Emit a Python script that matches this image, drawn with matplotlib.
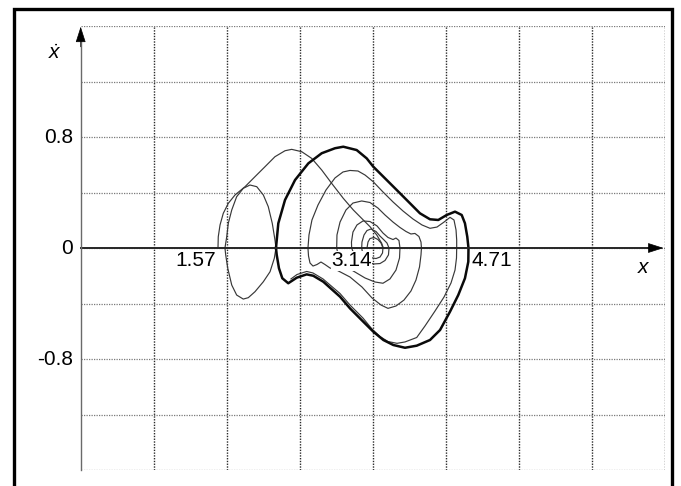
import numpy as np
import matplotlib.pyplot as plt
from matplotlib.patches import Rectangle

# closed orbit (drawn heavy): angle x and angular velocity xdot
cycle_x = [2.101, 2.126, 2.198, 2.306, 2.449, 2.593, 2.736, 2.825, 2.969, 3.077,
           3.148, 3.256, 3.400, 3.543, 3.650, 3.758, 3.847, 3.938, 4.027, 4.099,
           4.134, 4.159, 4.172, 4.170, 4.134, 4.062, 3.973, 3.866, 3.758, 3.615,
           3.489, 3.363, 3.256, 3.148, 3.040, 2.897, 2.790, 2.610, 2.502, 2.431,
           2.324, 2.233, 2.169, 2.133, 2.109, 2.101]
cycle_v = [0.0, 0.178, 0.346, 0.490, 0.610, 0.683, 0.719, 0.730, 0.706, 0.646,
           0.586, 0.514, 0.418, 0.322, 0.250, 0.207, 0.202, 0.238, 0.262, 0.238,
           0.178, 0.081, 0.0, -0.099, -0.218, -0.339, -0.459, -0.591, -0.663, -0.704,
           -0.719, -0.699, -0.663, -0.603, -0.531, -0.435, -0.351, -0.243, -0.200, -0.190,
           -0.214, -0.254, -0.218, -0.146, -0.050, 0.0]

# small loop on the left
lobe_x = [1.552, 1.571, 1.588, 1.625, 1.678, 1.749, 1.821, 1.894, 1.965, 2.018,
          2.061, 2.090, 2.101, 2.083, 2.037, 1.965, 1.875, 1.803, 1.749, 1.678,
          1.625, 1.582, 1.560, 1.552]
lobe_v = [0.0, 0.081, 0.178, 0.274, 0.370, 0.430, 0.454, 0.442, 0.382, 0.298,
          0.178, 0.058, 0.0, -0.074, -0.171, -0.243, -0.315, -0.358, -0.368, -0.339,
          -0.267, -0.146, -0.050, 0.0]

# big arc falling into the centre
arc_x = [1.477, 1.480, 1.499, 1.534, 1.588, 1.660, 1.768, 1.875, 1.983, 2.090,
         2.198, 2.270, 2.378, 2.485, 2.593, 2.700, 2.825, 2.933, 3.040, 3.112,
         3.185, 3.238, 3.256]
arc_v = [0.0, 0.081, 0.166, 0.250, 0.322, 0.382, 0.442, 0.514, 0.586, 0.658,
         0.701, 0.711, 0.694, 0.646, 0.562, 0.466, 0.358, 0.274, 0.202, 0.154,
         0.094, 0.034, 0.0]

# spiral winding out from the centre
spiral_x = [3.080, 3.091, 3.112, 3.155, 3.198, 3.231, 3.252, 3.247, 3.220, 3.177,
            3.112, 3.059, 3.029, 3.023, 3.026, 3.048, 3.080, 3.123, 3.177, 3.220,
            3.263, 3.295, 3.317, 3.311, 3.274, 3.220, 3.155, 3.069, 2.983, 2.940,
            2.915, 2.913, 2.929, 2.972, 3.037, 3.112, 3.188, 3.252, 3.306, 3.360,
            3.392, 3.424, 3.435, 3.430, 3.392, 3.327, 3.252, 3.166, 3.059, 2.951,
            2.843, 2.779, 2.754, 2.757, 2.790, 2.854, 2.929, 3.023, 3.112, 3.198,
            3.274, 3.360, 3.435, 3.500, 3.553, 3.596, 3.639, 3.661, 3.666, 3.661,
            3.645, 3.607, 3.553, 3.478, 3.392, 3.306, 3.231, 3.134, 3.026, 2.897,
            2.754, 2.682, 2.628, 2.585, 2.542, 2.499, 2.467, 2.451, 2.445, 2.456,
            2.488, 2.553, 2.639, 2.736, 2.822, 2.897, 2.983, 3.059, 3.145, 3.252,
            3.360, 3.467, 3.575, 3.672, 3.758, 3.833, 3.909, 3.973, 4.016, 4.038,
            4.045, 4.045, 4.043, 4.027, 3.984, 3.909, 3.812, 3.704, 3.615, 3.489,
            3.403, 3.306, 3.220, 3.134, 3.037, 2.897, 2.790, 2.607, 2.499, 2.431,
            2.327, 2.262]
spiral_v = [0.0, 0.043, 0.068, 0.076, 0.061, 0.036, 0.0, -0.036, -0.065, -0.076,
            -0.068, -0.047, -0.022, 0.0, 0.043, 0.094, 0.126, 0.137, 0.119, 0.086,
            0.058, 0.036, 0.0, -0.050, -0.090, -0.112, -0.115, -0.101, -0.076, -0.043,
            0.0, 0.043, 0.115, 0.166, 0.195, 0.191, 0.159, 0.108, 0.076, 0.061,
            0.072, 0.054, 0.0, -0.072, -0.159, -0.223, -0.254, -0.245, -0.216, -0.173,
            -0.130, -0.079, 0.0, 0.094, 0.187, 0.274, 0.324, 0.339, 0.328, 0.288,
            0.238, 0.187, 0.148, 0.119, 0.101, 0.105, 0.083, 0.043, 0.0, -0.050,
            -0.137, -0.231, -0.310, -0.375, -0.418, -0.435, -0.411, -0.360, -0.281, -0.209,
            -0.159, -0.144, -0.119, -0.101, -0.119, -0.130, -0.108, -0.058, 0.0, 0.094,
            0.202, 0.310, 0.418, 0.505, 0.548, 0.559, 0.555, 0.526, 0.479, 0.404,
            0.332, 0.267, 0.209, 0.166, 0.142, 0.151, 0.187, 0.221, 0.202, 0.130,
            0.058, 0.0, -0.072, -0.159, -0.252, -0.353, -0.454, -0.562, -0.645, -0.677,
            -0.687, -0.674, -0.638, -0.584, -0.505, -0.411, -0.328, -0.223, -0.180, -0.169,
            -0.191, -0.223]

x_ticks = [1.57, 3.14, 4.71]
x_tick_labels = ['1.57', '3.14', '4.71']
y_ticks = [0.8, 0.0, -0.8]
y_tick_labels = ['0.8', '0', '-0.8']

plt.rcParams['font.family'] = ['Liberation Sans', 'DejaVu Sans']
plt.rcParams['mathtext.fontset'] = 'custom'
plt.rcParams['mathtext.it'] = 'Liberation Sans:italic'
plt.rcParams['mathtext.rm'] = 'Liberation Sans'

fig = plt.figure(figsize=(6.81, 4.86), dpi=100)
ax = fig.add_axes([0.1185, 0.0329, 0.8576, 0.9136])
ax.set_xlim(0, 2 * np.pi)
ax.set_ylim(-1.6, 1.6)
for s in ax.spines.values():
    s.set_visible(False)

# dotted grid every pi/4 across and 0.4 up
ax.set_xticks(np.pi / 4 * np.arange(1, 9))
ax.set_yticks(np.linspace(-1.6, 1.6, 9))
ax.tick_params(length=0, labelbottom=False, labelleft=False)
ax.xaxis.grid(True, color='#2a2a2a', ls=(0, (1, 1)), lw=1.0)
ax.yaxis.grid(True, color='#7a7a7a', ls=(0, (1, 1)), lw=0.9)
ax.set_axisbelow(True)

# trajectories
thin = dict(color='#383838', lw=0.85, zorder=2)
ax.plot(arc_x, arc_v, **thin)
ax.plot(lobe_x, lobe_v, **thin)
ax.plot(spiral_x, spiral_v, **thin)
ax.plot(cycle_x, cycle_v, color='#0a0a0a', lw=1.8, zorder=2.5)

# axes with arrow heads
ax.plot([0, 2 * np.pi - 0.1], [0, 0], color='#262626', lw=1.4, zorder=4, clip_on=False)
ax.plot([0, 0], [-1.6, 1.5], color='#6a6a6a', lw=1.0, zorder=4, clip_on=False)
head = dict(arrowstyle='-|>,head_length=1.0,head_width=0.32', color='black',
            lw=0.5, shrinkA=0, shrinkB=0, mutation_scale=10)
ax.annotate('', xy=(6.27, 0), xytext=(6.10, 0), arrowprops=head,
            annotation_clip=False, zorder=5)
ax.annotate('', xy=(0, 1.595), xytext=(0, 1.45), arrowprops=head,
            annotation_clip=False, zorder=5)

# tick labels
for v, t in zip(y_ticks, y_tick_labels):
    ax.text(-0.08, v, t, ha='right', va='center', fontsize=15)
x_label_shift = [0.11, 0.01, 0.07]
for v, t, d in zip(x_ticks, x_tick_labels, x_label_shift):
    ax.text(v - d, -0.025, t, ha='right', va='top', fontsize=15, zorder=3,
            bbox=dict(facecolor='white', edgecolor='none', pad=0.3))

ax.text(6.06, -0.137, '$x$', ha='center', va='center', fontsize=15)
ax.text(-0.276, 1.40, r'$\dot{x}$', ha='center', va='center', fontsize=15,
        clip_on=False)

# heavy frame round the figure
fig.add_artist(Rectangle((14.3 / 681, -0.05), (672.3 - 14.3) / 681, 1 - 9 / 486 + 0.05,
                         transform=fig.transFigure, fill=False, ec='black', lw=2.4,
                         clip_on=False))

fig.savefig('out.png', dpi=100)
